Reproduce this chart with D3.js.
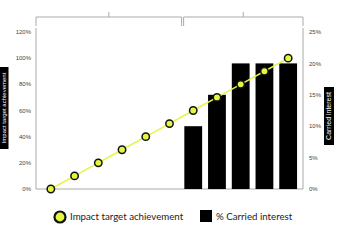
<!DOCTYPE html>
<html><head><meta charset="utf-8">
<script src="https://cdn.jsdelivr.net/npm/d3@7"></script>
<style>body{margin:0;background:#fff}svg{display:block}</style>
</head><body>
<svg id="c" width="360" height="240"></svg>
<script>
const categories = ["1","2","3","4","5","6","7","8","9","10","11"];
const impactValues = [0,10,20,30,40,50,60,70,80,90,100];
const carriedValues = [null,null,null,null,null,null,10,15,20,20,20];
const leftTicks = [0,20,40,60,80,100,120];
const rightTicks = [0,5,10,15,20,25];
const groups = [{from:0,to:5},{from:6,to:10}];
const leftTitle = "Impact target achievement";
const rightTitle = "Carried interest";
const legendLabels = ["Impact target achievement","% Carried interest"];

const svg = d3.select("#c");
const L=36,R=303,T=32,B=189;
const x = d3.scaleBand().domain(categories).range([L,R]).padding(0.25);
const yL = d3.scaleLinear().domain([0,120]).range([B,T]);
const yR = d3.scaleLinear().domain([0,25]).range([B,T]);
const grey="#aaa", font="Lato, 'Open Sans', sans-serif", sfont="'Liberation Sans', Arial, sans-serif";

// axes lines
svg.append("line").attr("x1",L).attr("x2",L).attr("y1",28).attr("y2",B).attr("stroke",grey);
svg.append("line").attr("x1",R).attr("x2",R).attr("y1",28).attr("y2",B).attr("stroke",grey);
svg.append("line").attr("x1",L).attr("x2",R).attr("y1",B).attr("y2",B).attr("stroke",grey);

// tick labels
svg.selectAll(".lt").data(leftTicks).join("text").attr("x",31).attr("y",d=>yL(d)).attr("dy","0.35em")
  .attr("text-anchor","end").attr("font-size",6).attr("font-family",sfont).attr("fill","#444").text(d=>d+"%");
svg.selectAll(".rt").data(rightTicks).join("text").attr("x",309).attr("y",d=>yR(d)).attr("dy","0.35em")
  .attr("text-anchor","start").attr("font-size",6).attr("font-family",sfont).attr("fill","#444").text(d=>d+"%");

// brackets
const per = (R-L)/categories.length;
groups.forEach((g,i)=>{
  const s = L + g.from*per + (i>0?2:0);
  const e = L + (g.to+1)*per;
  const m=(s+e)/2;
  svg.append("path").attr("d",`M${s},26V17H${e}V26`).attr("fill","none").attr("stroke",grey);
  svg.append("line").attr("x1",m).attr("x2",m).attr("y1",17).attr("y2",12).attr("stroke",grey);
});

// bars
svg.selectAll(".bar").data(categories.map((c,i)=>({c,v:carriedValues[i]})).filter(d=>d.v!=null)).join("rect")
  .attr("x",d=>x(d.c)).attr("width",x.bandwidth()).attr("y",d=>yR(d.v)).attr("height",d=>B-yR(d.v)).attr("fill","#000");

// line
const cx = c=>x(c)+x.bandwidth()/2;
const pts = categories.map((c,i)=>[cx(c),yL(impactValues[i])]);
svg.append("path").attr("d",d3.line()(pts)).attr("fill","none").attr("stroke","#e4f542").attr("stroke-width",1.5);
svg.selectAll(".pt").data(pts).join("circle").attr("cx",d=>d[0]).attr("cy",d=>d[1]).attr("r",3.7)
  .attr("fill","#e4f542").attr("stroke","#111").attr("stroke-width",1.5);

// axis titles
function boxTitle(cx,cy,w,h,txt,fs){
  const g=svg.append("g").attr("transform",`translate(${cx},${cy}) rotate(-90)`);
  g.append("rect").attr("x",-h/2).attr("y",-w/2).attr("width",h).attr("height",w).attr("fill","#000");
  g.append("text").attr("x",0).attr("y",0).attr("dy","0.35em").attr("text-anchor","middle")
   .attr("font-size",fs).attr("font-family",sfont).attr("fill","#fff").text(txt);
}
boxTitle(4,108,9,82,leftTitle,6);
boxTitle(329,116,10,58,rightTitle,7);

// legend
svg.append("circle").attr("cx",60).attr("cy",217).attr("r",5.5).attr("fill","#e4f542").attr("stroke","#111").attr("stroke-width",2.2);
svg.append("text").attr("x",70).attr("y",217).attr("dy","0.35em").attr("font-size",9.7).attr("font-family",font).attr("fill","#222").text(legendLabels[0]);
svg.append("rect").attr("x",200).attr("y",210).attr("width",12).attr("height",12).attr("fill","#000");
svg.append("text").attr("x",216).attr("y",217).attr("dy","0.35em").attr("font-size",9.7).attr("font-family",font).attr("fill","#222").text(legendLabels[1]);
</script>
</body></html>
